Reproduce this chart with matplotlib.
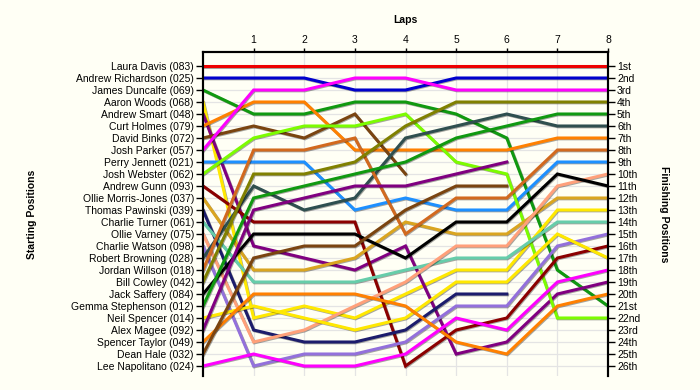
import matplotlib
matplotlib.use("Agg")
import matplotlib.pyplot as plt
import matplotlib.patheffects as pe

plt.rcParams['font.family'] = ['Liberation Sans', 'DejaVu Sans']

drivers = ["Laura Davis (083)", "Andrew Richardson (025)", "James Duncalfe (069)",
           "Aaron Woods (068)", "Andrew Smart (048)", "Curt Holmes (079)",
           "David Binks (072)", "Josh Parker (057)", "Perry Jennett (021)",
           "Josh Webster (062)", "Andrew Gunn (093)", "Ollie Morris-Jones (037)",
           "Thomas Pawinski (039)", "Charlie Turner (061)", "Ollie Varney (075)",
           "Charlie Watson (098)", "Robert Browning (028)", "Jordan Willson (018)",
           "Bill Cowley (042)", "Jack Saffery (084)", "Gemma Stephenson (012)",
           "Neil Spencer (014)", "Alex Magee (092)", "Spencer Taylor (049)",
           "Dean Hale (032)", "Lee Napolitano (024)"]

colors = ["#ee0000", "#0000cc", "#109910", "#ffe800", "#800080", "#ff8000",
          "#7a4410", "#ff00ff", "#1e90ff", "#7cfc00", "#8b0000", "#daa520",
          "#1c1c6c", "#66cdaa", "#ffa07a", "#9370db", "#2f4f4f", "#d2691e",
          "#808000", "#000000", "#109910", "#ffe800", "#800080", "#ff8000",
          "#7a4410", "#ff00ff"]

laps = [0, 1, 2, 3, 4, 5, 6, 7, 8]

# position of each driver after each lap (None = retired)
positions = [
    [1, 1, 1, 1, 1, 1, 1, 1, 1],
    [2, 2, 2, 3, 3, 2, 2, 2, 2],
    [3, 5, 5, 4, 4, 5, 7, 18, 21],
    [4, 22, 21, 22, 20, 18, 18, 13, 13],
    [5, 16, 17, 18, 16, 25, 24, 20, 19],
    [6, 4, 4, 8, 8, 8, 8, 7, 7],
    [7, 6, 7, 5, 10, None, None, None, None],
    [8, 3, 3, 2, 2, 3, 3, 3, 3],
    [9, 9, 9, 13, 12, 13, 13, 9, 9],
    [10, 7, 6, 6, 5, 9, 10, 22, 22],
    [11, 14, 14, 14, 26, 23, 22, 17, 16],
    [12, 18, 18, 17, 14, 15, 15, 12, 12],
    [13, 23, 24, 24, 23, 20, 20, None, None],
    [14, 19, 19, 19, 18, 17, 17, 14, 14],
    [15, 24, 23, 21, 19, 16, 16, 11, 10],
    [16, 26, 25, 25, 24, 21, 21, 16, 15],
    [17, 11, 13, 12, 7, 6, 5, 6, 6],
    [18, 8, 8, 7, 15, 12, 12, 8, 8],
    [19, 10, 10, 9, 6, 4, 4, 4, 4],
    [20, 15, 15, 15, 17, 14, 14, 10, 11],
    [21, 12, 11, 10, 9, 7, 6, 5, 5],
    [22, 21, 22, 23, 22, 19, 19, 15, 17],
    [23, 13, 12, 11, 11, 10, 9, None, None],
    [24, 20, 20, 20, 21, 24, 25, 21, 20],
    [25, 17, 16, 16, 13, 11, 11, None, None],
    [26, 25, 26, 26, 25, 22, 23, 19, 18],
]

finish_labels = ["1st", "2nd", "3rd", "4th", "5th", "6th", "7th", "8th", "9th",
                 "10th", "11th", "12th", "13th", "14th", "15th", "16th", "17th",
                 "18th", "19th", "20th", "21st", "22nd", "23rd", "24th", "25th", "26th"]

bg = "#fffff5"
fig = plt.figure(figsize=(7, 3.9), dpi=100, facecolor=bg)
ax = fig.add_axes([203 / 700, 1 - 376 / 390, 405 / 700, 324 / 390])
ax.set_facecolor(bg)

for name, col, pos in zip(drivers, colors, positions):
    xs = [l for l, p in zip(laps, pos) if p is not None]
    ys = [p for p in pos if p is not None]
    ax.plot(xs, ys, color=col, lw=2.2, solid_joinstyle='miter', zorder=3,
            path_effects=[pe.SimpleLineShadow(offset=(0.6, -0.6), alpha=0.35),
                          pe.Normal()])

ax.set_xlim(0, 8)
ax.set_ylim(1 + 310 / 12, 1 - 14 / 12)

ax.xaxis.tick_top()
ax.set_xticks(laps[1:])
ax.set_xticklabels([str(l) for l in laps[1:]])
ax.set_xlabel("Laps", fontweight='bold', fontsize=7.5, labelpad=9)
ax.xaxis.set_label_position('top')

ax.set_yticks(range(1, 27))
ax.set_yticklabels(drivers)
ax.set_ylabel("Starting Positions", fontweight='bold', fontsize=7.5, labelpad=25)

ax.grid(True, color="#e4e4e4", lw=0.9, zorder=0)
ax.tick_params(axis='both', labelsize=7.5, length=5, width=1, pad=1.5, color='black')
ax.tick_params(axis='x', length=3, pad=2)

ax2 = ax.twinx()
ax2.set_ylim(ax.get_ylim())
ax2.set_yticks(range(1, 27))
ax2.set_yticklabels(finish_labels)
ax2.tick_params(axis='y', labelsize=7.5, length=5, width=1, pad=1.5)
ax2.set_ylabel("Finishing Positions", fontweight='bold', fontsize=7.5,
               rotation=-90, labelpad=21)

for a in (ax, ax2):
    for s in ('left', 'right', 'top'):
        a.spines[s].set_linewidth(1.5)
    a.spines['bottom'].set_visible(False)

fig.savefig("out.png", dpi=100, facecolor=bg)
